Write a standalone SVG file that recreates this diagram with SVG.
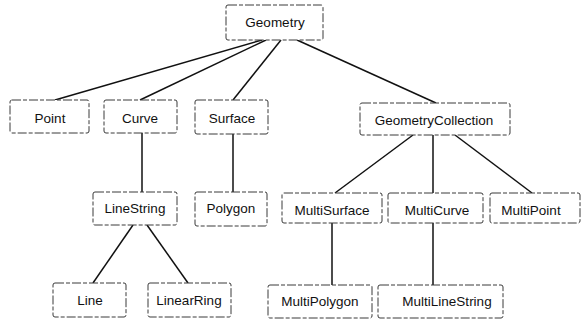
<svg xmlns="http://www.w3.org/2000/svg" width="587" height="322" viewBox="0 0 587 322">
<style>
.box{fill:#fff;stroke:#3a3a3a;stroke-width:1;stroke-dasharray:9 2 4 2;}
.lbl{font-family:"Liberation Sans",Arial,sans-serif;font-size:13.5px;fill:#111;text-anchor:middle;dominant-baseline:central;}
.edge{stroke:#111;stroke-width:1.5;fill:none;}
</style>
<rect width="587" height="322" fill="#fff"/>
<g id="connectors">
<line class="edge" x1="262" y1="40" x2="55" y2="100"/>
<line class="edge" x1="266" y1="40" x2="140" y2="100"/>
<line class="edge" x1="281" y1="40" x2="233" y2="100"/>
<line class="edge" x1="297" y1="40" x2="436" y2="103"/>
<line class="edge" x1="142" y1="133" x2="142" y2="192"/>
<line class="edge" x1="233" y1="134" x2="233" y2="192"/>
<line class="edge" x1="413" y1="135" x2="335" y2="193"/>
<line class="edge" x1="433" y1="135" x2="433" y2="193"/>
<line class="edge" x1="455" y1="135" x2="532" y2="193"/>
<line class="edge" x1="133" y1="225" x2="93" y2="283"/>
<line class="edge" x1="147" y1="225" x2="188" y2="283"/>
<line class="edge" x1="332" y1="223" x2="332" y2="285"/>
<line class="edge" x1="433" y1="223" x2="433" y2="285"/>
</g>
<g id="Geometry"><rect class="box" x="226" y="5" width="97" height="35" rx="2"/><text class="lbl" x="275" y="22">Geometry</text></g>
<g id="Point"><rect class="box" x="10" y="100" width="79" height="33" rx="2"/><text class="lbl" x="50" y="118">Point</text></g>
<g id="Curve"><rect class="box" x="104" y="100" width="73" height="33" rx="2"/><text class="lbl" x="140" y="118">Curve</text></g>
<g id="Surface"><rect class="box" x="195" y="100" width="73" height="34" rx="2"/><text class="lbl" x="232" y="118">Surface</text></g>
<g id="GeometryCollection"><rect class="box" x="360" y="103" width="150" height="32" rx="2"/><text class="lbl" x="434" y="120">GeometryCollection</text></g>
<g id="LineString"><rect class="box" x="93" y="192" width="84" height="33" rx="2"/><text class="lbl" x="135" y="208">LineString</text></g>
<g id="Polygon"><rect class="box" x="195" y="192" width="72" height="34" rx="2"/><text class="lbl" x="231" y="208">Polygon</text></g>
<g id="MultiSurface"><rect class="box" x="282" y="193" width="100" height="30" rx="2"/><text class="lbl" x="332" y="210">MultiSurface</text></g>
<g id="MultiCurve"><rect class="box" x="388" y="193" width="95" height="30" rx="2"/><text class="lbl" x="437" y="210">MultiCurve</text></g>
<g id="MultiPoint"><rect class="box" x="490" y="193" width="90" height="30" rx="2"/><text class="lbl" x="531" y="210">MultiPoint</text></g>
<g id="Line"><rect class="box" x="53" y="283" width="73" height="34" rx="2"/><text class="lbl" x="90" y="300">Line</text></g>
<g id="LinearRing"><rect class="box" x="148" y="283" width="83" height="34" rx="2"/><text class="lbl" x="189" y="300">LinearRing</text></g>
<g id="MultiPolygon"><rect class="box" x="268" y="285" width="104" height="33" rx="2"/><text class="lbl" x="320" y="301">MultiPolygon</text></g>
<g id="MultiLineString"><rect class="box" x="378" y="285" width="125" height="33" rx="2"/><text class="lbl" x="447" y="301">MultiLineString</text></g>
</svg>
